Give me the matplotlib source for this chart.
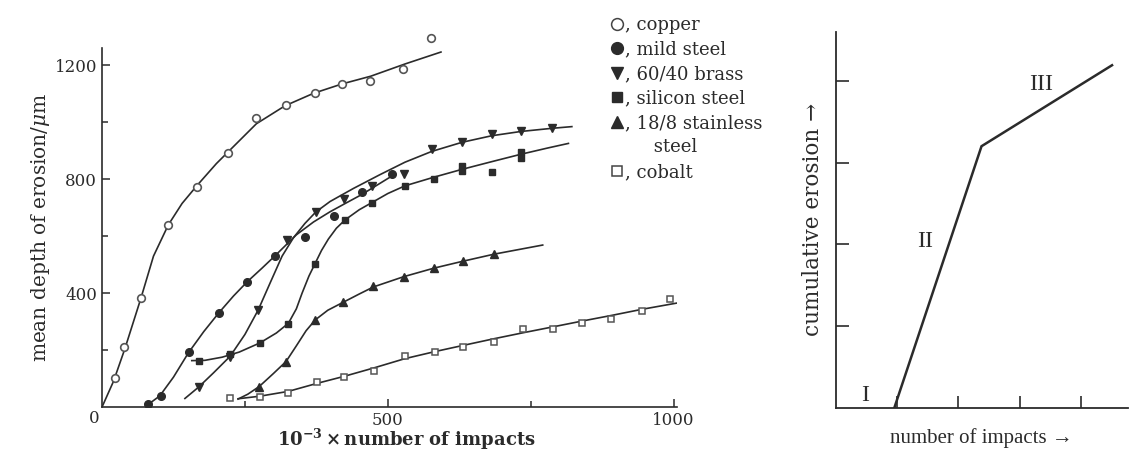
import matplotlib.pyplot as plt
from matplotlib.lines import Line2D

plt.rcParams['font.family'] = 'DejaVu Serif'
plt.rcParams['mathtext.fontset'] = 'dejavuserif'

ink = '#2b2b2b'

# erosion data (10^-3 x impacts, um)
# copper, open circles
cu_x = [23, 38, 68, 116, 167, 220, 269, 321, 372, 420, 469, 526, 575]
cu_y = [101, 210, 382, 639, 774, 894, 1014, 1061, 1102, 1133, 1145, 1186, 1295]
cu_fit_x = [0, 20, 40, 68, 90, 116, 140, 167, 200, 220, 270, 320, 370, 420, 470, 530, 593]
cu_fit_y = [0, 90, 205, 382, 530, 640, 715, 780, 855, 895, 995, 1058, 1102, 1135, 1162, 1205, 1247]

# mild steel, filled circles
ms_x = [81, 103, 152, 204, 254, 302, 355, 406, 454, 507]
ms_y = [10, 40, 192, 331, 440, 531, 596, 671, 755, 818]
ms_fit_x = [78, 101, 125, 151, 178, 204, 230, 254, 280, 302, 340, 370, 399, 430, 454, 480, 510]
ms_fit_y = [5, 39, 105, 190, 265, 330, 390, 440, 488, 530, 605, 650, 686, 720, 746, 778, 815]

# 60/40 brass, down triangles
br_x = [169, 224, 273, 323, 374, 423, 472, 528, 577, 630, 682, 733, 787]
br_y = [70, 176, 341, 587, 686, 729, 776, 818, 908, 932, 960, 968, 979]
br_fit_x = [145, 169, 195, 224, 250, 273, 295, 315, 335, 355, 374, 399, 440, 486, 530, 577, 630, 682, 733, 787, 822]
br_fit_y = [30, 70, 120, 178, 255, 340, 440, 530, 595, 645, 685, 722, 768, 816, 860, 898, 930, 953, 968, 979, 985]

# silicon steel, filled squares
si_x = [170, 224, 276, 326, 372, 425, 472, 530, 580, 630, 630, 682, 733, 733]
si_y = [163, 187, 225, 293, 501, 658, 718, 777, 801, 848, 828, 827, 897, 876]
si_fit_x = [157, 180, 210, 240, 276, 305, 326, 340, 350, 362, 372, 384, 396, 410, 425, 450, 472, 500, 530, 580,
            630, 682, 733, 780, 816]
si_fit_y = [163, 164, 175, 193, 225, 260, 294, 345, 400, 460, 501, 550, 590, 628, 657, 693, 718, 750, 777, 807,
            835, 862, 888, 910, 926]

# 18/8 stainless steel, up triangles
ss_x = [275, 321, 373, 422, 474, 528, 581, 631, 686]
ss_y = [70, 158, 306, 368, 426, 458, 488, 512, 537]
ss_fit_x = [238, 255, 275, 300, 322, 340, 357, 373, 395, 422, 450, 475, 528, 581, 631, 686, 771]
ss_fit_y = [28, 45, 72, 118, 160, 215, 268, 306, 340, 368, 397, 422, 458, 488, 512, 537, 569]

# cobalt, open squares
co_x = [224, 276, 326, 376, 424, 475, 530, 583, 632, 685, 736, 789, 840, 891, 944, 994]
co_y = [33, 36, 51, 89, 104, 127, 180, 195, 210, 229, 273, 275, 296, 308, 338, 378]
co_fit_x = [238, 276, 326, 376, 424, 475, 530, 583, 633, 686, 737, 790, 840, 892, 944, 1008]
co_fit_y = [29, 38, 55, 83, 108, 137, 170, 195, 217, 240, 261, 282, 302, 322, 343, 366]

# schematic three-stage curve
stage_x = [0.956, 2.38, 4.51]
stage_y = [0, 3.2, 4.19]

fig = plt.figure(figsize=(11.35, 4.62), dpi=100)

ax = fig.add_axes([0.0899, 0.119, 0.5066, 0.777])
for fx, fy in [(cu_fit_x, cu_fit_y), (ms_fit_x, ms_fit_y), (br_fit_x, br_fit_y),
               (si_fit_x, si_fit_y), (ss_fit_x, ss_fit_y), (co_fit_x, co_fit_y)]:
    ax.plot(fx, fy, color=ink, lw=1.2, zorder=2)

ax.plot(cu_x, cu_y, 'o', ms=5.5, mfc='white', mec='#555555', mew=1.2, zorder=3, clip_on=False)
ax.plot(ms_x, ms_y, 'o', ms=5.5, mfc=ink, mec=ink, zorder=3)
ax.plot(br_x, br_y, 'v', ms=5.5, mfc=ink, mec=ink, zorder=3)
ax.plot(si_x, si_y, 's', ms=5, mfc=ink, mec=ink, zorder=3)
ax.plot(ss_x, ss_y, '^', ms=5.5, mfc=ink, mec=ink, zorder=3)
ax.plot(co_x, co_y, 's', ms=5, mfc='white', mec='#555555', mew=1.1, zorder=3)

ax.set_xlim(0, 1006)
ax.set_ylim(0, 1261)
for s in ['top', 'right']:
    ax.spines[s].set_visible(False)
for s in ['left', 'bottom']:
    ax.spines[s].set_color(ink)
    ax.spines[s].set_linewidth(1.2)
ax.set_xticks([500, 1000])
ax.set_xticks([250, 750], minor=True)
ax.set_yticks([400, 800, 1200])
ax.set_yticks([200, 600, 1000], minor=True)
ax.tick_params(which='both', direction='in', colors=ink, labelsize=12, width=1.1)
ax.tick_params(which='major', length=6)
ax.tick_params(which='minor', length=4)
ax.annotate('0', xy=(0, 0), xytext=(-2, -8), textcoords='offset points',
            ha='right', va='center', fontsize=12, color=ink)
ax.set_ylabel('mean depth of erosion/$\\mu$m', fontsize=14.5, color=ink, labelpad=2)
ax.set_xlabel('$\\mathbf{10^{-3}\\times}$number of impacts', fontsize=13, fontweight='bold', color=ink)
ax.xaxis.set_label_coords(0.53, -0.055)

handles = [
    Line2D([], [], ls='none', marker='o', ms=8.5, mfc='white', mec='#444444', mew=1.1),
    Line2D([], [], ls='none', marker='o', ms=8.5, mfc=ink, mec=ink),
    Line2D([], [], ls='none', marker='v', ms=8.5, mfc=ink, mec=ink),
    Line2D([], [], ls='none', marker='s', ms=7.5, mfc=ink, mec=ink),
    Line2D([], [], ls='none', marker='^', ms=8.5, mfc=ink, mec=ink),
    Line2D([], [], ls='none'),
    Line2D([], [], ls='none', marker='s', ms=7.5, mfc='white', mec='#444444', mew=1.1),
]
labels = [', copper', ', mild steel', ', 60/40 brass', ', silicon steel',
          ', 18/8 stainless', '     steel', ', cobalt']
fig.legend(handles, labels, loc='upper left', bbox_to_anchor=(611 / 1135, 1 - 16 / 462),
           frameon=False, fontsize=13, handlelength=0.65, handletextpad=0.12,
           labelspacing=0.36, borderpad=0, borderaxespad=0, labelcolor=ink)

ax2 = fig.add_axes([0.7363, 0.1169, 0.2575, 0.8145])
ax2.plot(stage_x, stage_y, color=ink, lw=1.8, solid_joinstyle='miter')
ax2.set_xlim(0, 4.77)
ax2.set_ylim(0, 4.6)
for s in ['top', 'right']:
    ax2.spines[s].set_visible(False)
for s in ['left', 'bottom']:
    ax2.spines[s].set_color(ink)
    ax2.spines[s].set_linewidth(1.3)
ax2.set_xticks([1, 2, 3, 4])
ax2.set_yticks([1, 2, 3, 4])
ax2.set_xticklabels([])
ax2.set_yticklabels([])
ax2.tick_params(direction='in', length=9, width=1.2, colors=ink)
ax2.text(0.48, 0.03, 'I', fontsize=17, family='Liberation Serif', color=ink, ha='center', va='bottom')
ax2.text(1.46, 2.04, 'II', fontsize=17, family='Liberation Serif', color=ink, ha='center', va='center')
ax2.text(3.36, 3.95, 'III', fontsize=17, family='Liberation Serif', color=ink, ha='center', va='center')
ax2.set_ylabel('cumulative erosion \u2192', fontsize=15.5, family='DejaVu Serif', color=ink, labelpad=5)
ax2.set_xlabel('number of impacts \u2192', fontsize=15, family='Liberation Serif', color=ink, labelpad=11)

fig.savefig('out.png', dpi=100)
